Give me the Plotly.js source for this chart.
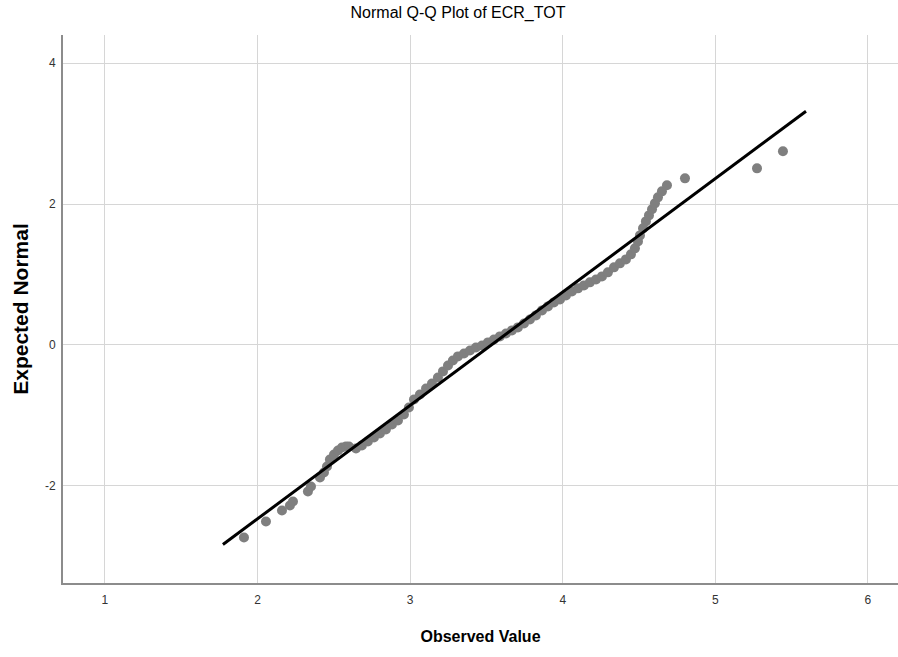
<!DOCTYPE html>
<html>
<head>
<meta charset="utf-8">
<script src="https://cdn.plot.ly/plotly-3.0.1.min.js"></script>
<style>html,body{margin:0;padding:0;background:#fff;}#chart{width:898px;height:657px;}</style>
</head>
<body>
<div id="chart"></div>
<script>
const observed = [1.911, 2.055, 2.160, 2.212, 2.232, 2.330, 2.350, 2.409, 2.435, 2.455,
  2.474, 2.501, 2.527, 2.553, 2.579, 2.599, 2.645, 2.684, 2.723, 2.763,
  2.802, 2.841, 2.881, 2.920, 2.959, 2.992, 3.025, 3.064, 3.104, 3.143,
  3.182, 3.215, 3.248, 3.280, 3.313, 3.353, 3.392, 3.431, 3.471, 3.510,
  3.549, 3.588, 3.628, 3.667, 3.706, 3.746, 3.785, 3.824, 3.864, 3.903,
  3.942, 3.982, 4.021, 4.060, 4.100, 4.139, 4.178, 4.218, 4.257, 4.296,
  4.336, 4.375, 4.414, 4.447, 4.473, 4.493, 4.506, 4.526, 4.545, 4.565,
  4.585, 4.604, 4.624, 4.650, 4.683, 4.801, 5.273, 5.443];
const expectedNormal = [-2.734, -2.507, -2.351, -2.280, -2.223, -2.081, -2.010, -1.882, -1.811, -1.726,
  -1.626, -1.555, -1.499, -1.456, -1.442, -1.442, -1.470, -1.428, -1.371, -1.314,
  -1.257, -1.200, -1.129, -1.072, -0.987, -0.888, -0.774, -0.703, -0.618, -0.547,
  -0.462, -0.376, -0.291, -0.220, -0.163, -0.121, -0.078, -0.036, -0.007, 0.036,
  0.078, 0.121, 0.163, 0.206, 0.249, 0.305, 0.362, 0.419, 0.490, 0.547,
  0.604, 0.646, 0.703, 0.760, 0.803, 0.845, 0.888, 0.930, 0.973, 1.030,
  1.101, 1.158, 1.214, 1.286, 1.371, 1.470, 1.555, 1.655, 1.754, 1.839,
  1.925, 2.010, 2.095, 2.180, 2.266, 2.365, 2.507, 2.749];
// Reference line endpoints
const refLineX = [1.773, 5.594];
const refLineY = [-2.834, 3.317];

const xTicks = [1, 2, 3, 4, 5, 6];
const yTicks = [-2, 0, 2, 4];

const sans = "Liberation Sans, Arial, sans-serif";

const traces = [
  {
    x: observed, y: expectedNormal, type: 'scatter', mode: 'markers',
    marker: {color: '#7f7f7f', size: 10, line: {width: 0}},
    hoverinfo: 'x+y', showlegend: false
  },
  {
    x: refLineX, y: refLineY, type: 'scatter', mode: 'lines',
    line: {color: '#000000', width: 3},
    hoverinfo: 'skip', showlegend: false
  }
];

const layout = {
  width: 898, height: 657,
  margin: {l: 63, r: 0, t: 35, b: 74},
  paper_bgcolor: '#ffffff', plot_bgcolor: '#ffffff',
  title: {
    text: 'Normal Q-Q Plot of ECR_TOT',
    font: {family: sans, size: 16, color: '#000000'},
    x: 458 / 898, xref: 'container', xanchor: 'center',
    y: 1 - 12 / 657, yref: 'container', yanchor: 'middle'
  },
  xaxis: {
    range: [0.725, 6.197],
    tickvals: xTicks, ticktext: xTicks.map(String),
    showgrid: true, gridcolor: '#d6d6d6', gridwidth: 1,
    zeroline: false,
    showline: true, linecolor: '#8c8c8c', linewidth: 2,
    ticks: '', ticklabelstandoff: 5,
    tickfont: {family: sans, size: 12, color: '#333333'},
    title: {text: '<b>Observed Value</b>', font: {family: sans, size: 16, color: '#000000'}, standoff: 24}
  },
  yaxis: {
    range: [-3.38, 4.40],
    tickvals: yTicks, ticktext: yTicks.map(String),
    showgrid: true, gridcolor: '#d6d6d6', gridwidth: 1,
    zeroline: false,
    showline: true, linecolor: '#8c8c8c', linewidth: 2,
    ticks: '', ticklabelstandoff: 3,
    tickfont: {family: sans, size: 12, color: '#333333'},
    title: {text: '<b>Expected Normal</b>', font: {family: sans, size: 21, color: '#000000'}, standoff: 11}
  }
};

Plotly.newPlot('chart', traces, layout, {displayModeBar: false, staticPlot: true});
</script>
</body>
</html>
